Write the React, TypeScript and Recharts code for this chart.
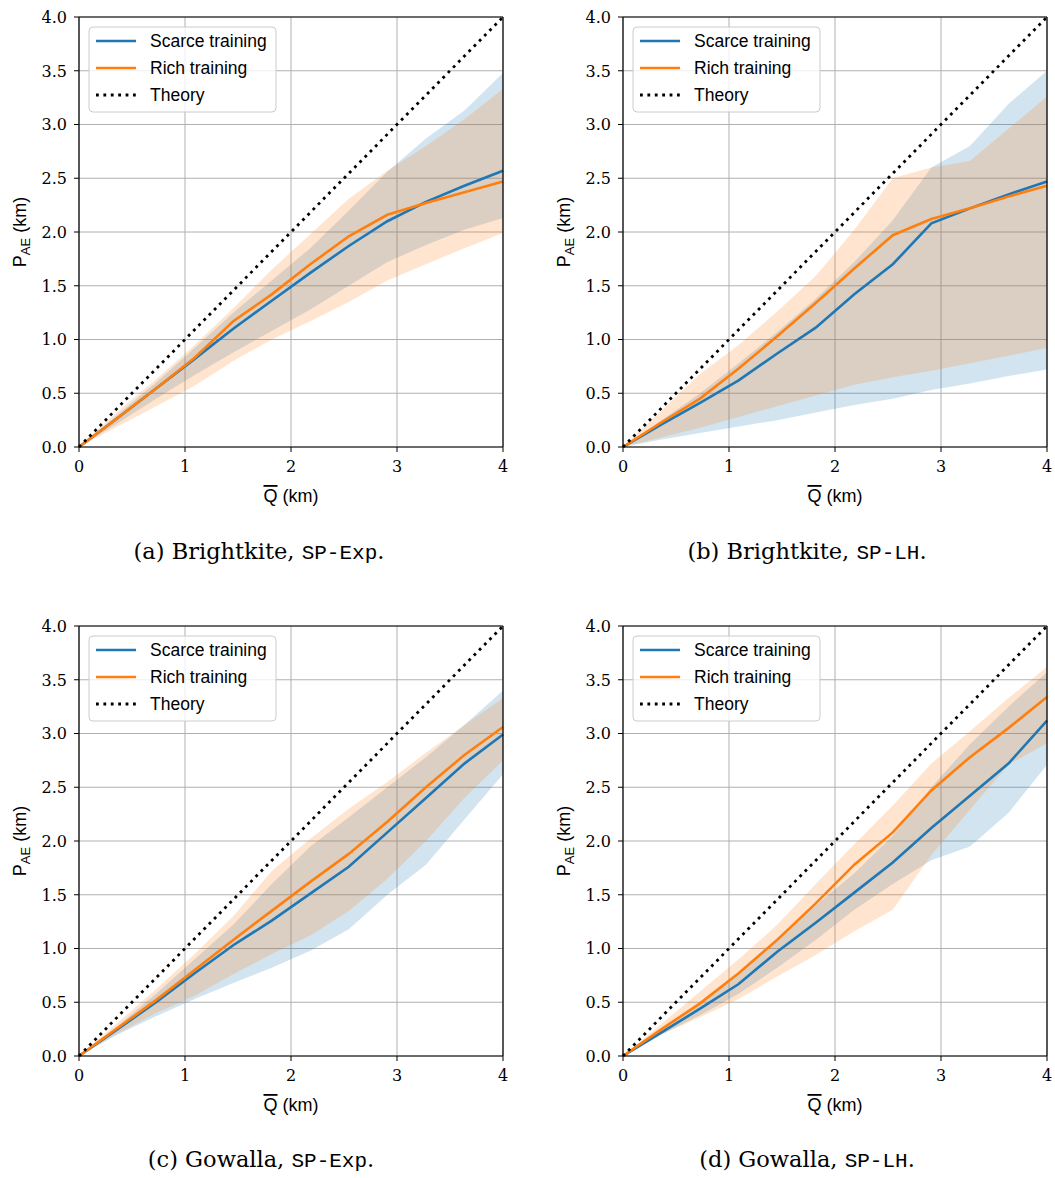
import {
  Area,
  CartesianGrid,
  ComposedChart,
  Label,
  Line,
  ReferenceLine,
  XAxis,
  YAxis,
} from "recharts";

// mean distance Q (km), 12 evaluation points
const qValues = [0, 0.364, 0.727, 1.091, 1.455, 1.818, 2.182, 2.545, 2.909, 3.273, 3.636, 4.0];

const theoryQ = [0, 4];
const theoryP = [0, 4];

const xTicks = [0, 1, 2, 3, 4];
const yTicks = [0, 0.5, 1, 1.5, 2, 2.5, 3, 3.5, 4];

// (a) Brightkite, SP-Exp
const scarceA = [0, 0.27, 0.545, 0.82, 1.1, 1.36, 1.62, 1.87, 2.1, 2.28, 2.43, 2.57];
const richA = [0, 0.27, 0.545, 0.83, 1.17, 1.42, 1.7, 1.96, 2.16, 2.27, 2.37, 2.47];
const scarceLoA = [0, 0.22, 0.45, 0.67, 0.88, 1.08, 1.28, 1.5, 1.72, 1.88, 2.02, 2.13];
const scarceHiA = [0, 0.3, 0.6, 0.92, 1.25, 1.55, 1.85, 2.2, 2.56, 2.87, 3.13, 3.48];
const richLoA = [0, 0.19, 0.38, 0.57, 0.8, 1.0, 1.17, 1.35, 1.55, 1.7, 1.85, 1.99];
const richHiA = [0, 0.33, 0.63, 0.95, 1.29, 1.65, 1.98, 2.31, 2.57, 2.8, 3.05, 3.33];

// (b) Brightkite, SP-LH
const scarceB = [0, 0.21, 0.41, 0.62, 0.87, 1.11, 1.42, 1.7, 2.08, 2.22, 2.35, 2.47];
const richB = [0, 0.23, 0.45, 0.73, 1.03, 1.34, 1.66, 1.97, 2.12, 2.22, 2.33, 2.43];
const scarceLoB = [0, 0.07, 0.13, 0.19, 0.25, 0.32, 0.39, 0.45, 0.53, 0.59, 0.66, 0.72];
const scarceHiB = [0, 0.25, 0.5, 0.78, 1.07, 1.38, 1.72, 2.11, 2.6, 2.8, 3.19, 3.5];
const richLoB = [0, 0.09, 0.18, 0.28, 0.38, 0.48, 0.58, 0.65, 0.71, 0.78, 0.85, 0.92];
const richHiB = [0, 0.34, 0.68, 0.95, 1.26, 1.59, 2.02, 2.5, 2.6, 2.66, 2.96, 3.26];

// (c) Gowalla, SP-Exp
const scarceC = [0, 0.25, 0.5, 0.77, 1.03, 1.26, 1.51, 1.76, 2.08, 2.4, 2.72, 2.99];
const richC = [0, 0.26, 0.52, 0.8, 1.08, 1.35, 1.62, 1.88, 2.18, 2.5, 2.8, 3.06];
const scarceLoC = [0, 0.2, 0.37, 0.53, 0.68, 0.82, 0.98, 1.18, 1.5, 1.78, 2.2, 2.62];
const scarceHiC = [0, 0.28, 0.58, 0.9, 1.22, 1.6, 1.95, 2.22, 2.5, 2.78, 3.08, 3.4];
const richLoC = [0, 0.21, 0.4, 0.56, 0.76, 0.95, 1.12, 1.35, 1.65, 2.0, 2.4, 2.75];
const richHiC = [0, 0.31, 0.62, 0.95, 1.3, 1.72, 2.02, 2.3, 2.55, 2.82, 3.08, 3.33];

// (d) Gowalla, SP-LH
const scarceD = [0, 0.22, 0.44, 0.67, 0.97, 1.24, 1.52, 1.8, 2.12, 2.42, 2.72, 3.12];
const richD = [0, 0.25, 0.49, 0.77, 1.08, 1.42, 1.78, 2.08, 2.47, 2.78, 3.05, 3.34];
const scarceLoD = [0, 0.2, 0.38, 0.58, 0.82, 1.08, 1.36, 1.6, 1.82, 1.95, 2.26, 2.71];
const scarceHiD = [0, 0.25, 0.5, 0.77, 1.1, 1.4, 1.7, 2.05, 2.5, 2.9, 3.25, 3.57];
const richLoD = [0, 0.2, 0.36, 0.53, 0.74, 0.94, 1.16, 1.36, 1.87, 2.29, 2.71, 2.91];
const richHiD = [0, 0.3, 0.6, 0.9, 1.22, 1.6, 1.97, 2.33, 2.72, 3.02, 3.33, 3.62];

const BLUE = "#1f77b4";
const ORANGE = "#ff7f0e";
const SANS = "'Liberation Sans', Arial, sans-serif";
const SERIF = "'DejaVu Serif', serif";
const MONO = "'Liberation Mono', 'DejaVu Sans Mono', monospace";
const LINE_W = 2.6;
const DOT_W = 2.8;
const DOT_DASH = "2.8 4.6";

const buildRows = (
  scarce: number[],
  rich: number[],
  scarceLo: number[],
  scarceHi: number[],
  richLo: number[],
  richHi: number[],
) =>
  qValues.map((q, i) => ({
    q,
    scarce: scarce[i],
    rich: rich[i],
    scarceBand: [scarceLo[i], scarceHi[i]],
    richBand: [richLo[i], richHi[i]],
  }));

const theoryRows = theoryQ.map((q, i) => ({ q, p: theoryP[i] }));

const panels = [
  {
    left: 0,
    top: 0,
    rows: buildRows(scarceA, richA, scarceLoA, scarceHiA, richLoA, richHiA),
    tag: "(a) Brightkite, ",
    code: "SP-Exp",
    captionX: 259,
    captionY: 559,
  },
  {
    left: 544,
    top: 0,
    rows: buildRows(scarceB, richB, scarceLoB, scarceHiB, richLoB, richHiB),
    tag: "(b) Brightkite, ",
    code: "SP-LH",
    captionX: 807,
    captionY: 559,
  },
  {
    left: 0,
    top: 609,
    rows: buildRows(scarceC, richC, scarceLoC, scarceHiC, richLoC, richHiC),
    tag: "(c) Gowalla, ",
    code: "SP-Exp",
    captionX: 261,
    captionY: 1167,
  },
  {
    left: 544,
    top: 609,
    rows: buildRows(scarceD, richD, scarceLoD, scarceHiD, richLoD, richHiD),
    tag: "(d) Gowalla, ",
    code: "SP-LH",
    captionX: 807,
    captionY: 1167,
  },
];

const CHART_W = 530;
const CHART_H = 520;
const MARGIN = { top: 17, right: 27, left: 34, bottom: 43 };
const PLOT_X = 79;
const PLOT_Y = 17;

const XTick = (props: any) => {
  const { x, y, payload } = props;
  return (
    <text
      x={x}
      y={y}
      dy="0.71em"
      textAnchor="middle"
      fontFamily={SERIF}
      fontSize={16}
      fill="#000"
    >
      {payload.value}
    </text>
  );
};

const YTick = (props: any) => {
  const { x, y, payload } = props;
  return (
    <text
      x={x}
      y={y}
      dy="0.36em"
      textAnchor="end"
      fontFamily={SERIF}
      fontSize={16}
      fill="#000"
    >
      {Number(payload.value).toFixed(1)}
    </text>
  );
};

const YLabel = (props: any) => {
  const vb = props.viewBox;
  const x = vb.x - 8;
  const y = vb.y + vb.height / 2;
  return (
    <text
      x={x}
      y={y}
      transform={`rotate(-90, ${x}, ${y})`}
      textAnchor="middle"
      fontFamily={SANS}
      fontSize={18}
      fill="#000"
    >
      P
      <tspan dy={4} fontSize={13}>
        AE
      </tspan>
      <tspan dy={-4}> (km)</tspan>
    </text>
  );
};

const XLabel = (props: any) => {
  const vb = props.viewBox;
  return (
    <text
      x={vb.x + vb.width / 2}
      y={vb.y + 55}
      textAnchor="middle"
      fontFamily={SANS}
      fontSize={18}
      fill="#000"
    >
      <tspan textDecoration="overline">Q</tspan>
      <tspan> (km)</tspan>
    </text>
  );
};

const Panel = ({ rows }: { rows: any[] }) => (
  <ComposedChart width={CHART_W} height={CHART_H} data={rows} margin={MARGIN}>
    <XAxis
      dataKey="q"
      type="number"
      domain={[0, 4]}
      ticks={xTicks}
      height={30}
      tick={<XTick />}
      tickSize={5}
      tickMargin={9}
      axisLine={{ stroke: "#000", strokeWidth: 1.2 }}
      tickLine={{ stroke: "#000", strokeWidth: 1 }}
    >
      <Label content={XLabel} />
    </XAxis>
    <YAxis
      type="number"
      domain={[0, 4]}
      ticks={yTicks}
      width={45}
      tick={<YTick />}
      tickSize={5}
      tickMargin={7}
      axisLine={{ stroke: "#000", strokeWidth: 1.2 }}
      tickLine={{ stroke: "#000", strokeWidth: 1 }}
    >
      <Label content={YLabel} />
    </YAxis>
    <Area
      dataKey="scarceBand"
      type="linear"
      fill={BLUE}
      fillOpacity={0.2}
      stroke="none"
      activeDot={false}
      isAnimationActive={false}
    />
    <Area
      dataKey="richBand"
      type="linear"
      fill={ORANGE}
      fillOpacity={0.2}
      stroke="none"
      activeDot={false}
      isAnimationActive={false}
    />
    <CartesianGrid stroke="#b0b0b0" strokeWidth={1} />
    <Line
      dataKey="scarce"
      type="linear"
      stroke={BLUE}
      strokeWidth={LINE_W}
      dot={false}
      activeDot={false}
      isAnimationActive={false}
    />
    <Line
      dataKey="rich"
      type="linear"
      stroke={ORANGE}
      strokeWidth={LINE_W}
      dot={false}
      activeDot={false}
      isAnimationActive={false}
    />
    <Line
      data={theoryRows}
      dataKey="p"
      type="linear"
      stroke="#000"
      strokeWidth={DOT_W}
      strokeDasharray={DOT_DASH}
      dot={false}
      activeDot={false}
      isAnimationActive={false}
    />
    <ReferenceLine y={4} stroke="#000" strokeWidth={1.2} />
    <ReferenceLine x={4} stroke="#000" strokeWidth={1.2} />
  </ComposedChart>
);

const legendItems = [
  { name: "Scarce training", color: BLUE, dash: undefined as string | undefined },
  { name: "Rich training", color: ORANGE, dash: undefined as string | undefined },
  { name: "Theory", color: "#000", dash: DOT_DASH },
];

export default function App() {
  return (
    <div
      style={{
        position: "absolute",
        left: 0,
        top: 0,
        width: 1055,
        height: 1178,
        background: "#fff",
      }}
    >
      {panels.map((p, i) => (
        <div key={i} style={{ position: "absolute", left: p.left, top: p.top }}>
          <Panel rows={p.rows} />
        </div>
      ))}
      <svg
        width={1055}
        height={1178}
        style={{ position: "absolute", left: 0, top: 0, pointerEvents: "none" }}
      >
        {panels.map((p, i) => {
          const px = p.left + PLOT_X;
          const py = p.top + PLOT_Y;
          return (
            <g key={i}>
              <rect
                x={px + 10}
                y={py + 10}
                width={187}
                height={85}
                rx={4}
                fill="#fff"
                fillOpacity={0.8}
                stroke="#cccccc"
                strokeWidth={1}
              />
              {legendItems.map((it, j) => (
                <g key={it.name}>
                  <line
                    x1={px + 17}
                    x2={px + 57}
                    y1={py + 24 + j * 27}
                    y2={py + 24 + j * 27}
                    stroke={it.color}
                    strokeWidth={it.dash ? DOT_W : LINE_W}
                    strokeDasharray={it.dash}
                  />
                  <text
                    x={px + 71}
                    y={py + 30 + j * 27}
                    fontFamily={SANS}
                    fontSize={17.5}
                    fill="#000"
                  >
                    {it.name}
                  </text>
                </g>
              ))}
              <text
                x={p.captionX}
                y={p.captionY}
                textAnchor="middle"
                fontFamily={SERIF}
                fontSize={22.5}
                fill="#000"
              >
                {p.tag}
                <tspan fontFamily={MONO} fontSize={21}>
                  {p.code}
                </tspan>
                .
              </text>
            </g>
          );
        })}
      </svg>
    </div>
  );
}
